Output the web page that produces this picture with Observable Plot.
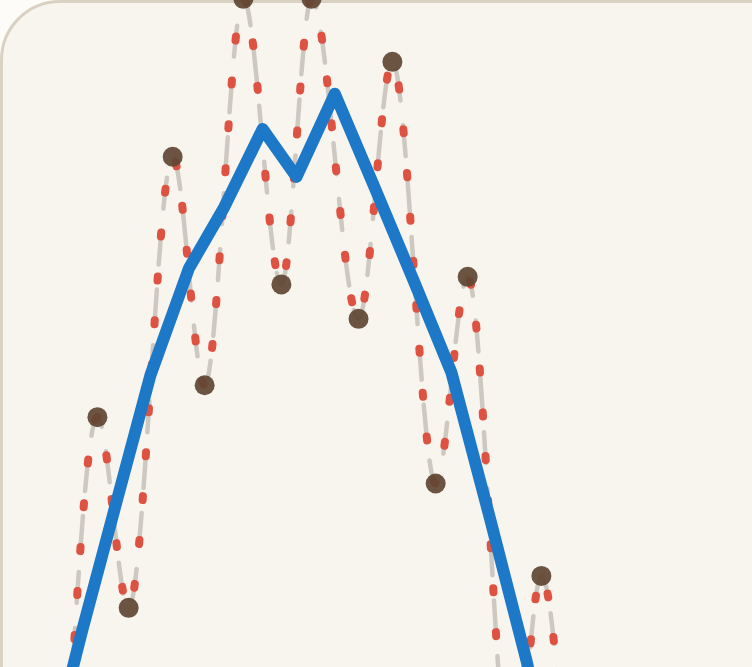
<!DOCTYPE html>
<html>
<head>
<meta charset="utf-8">
<script src="https://cdn.jsdelivr.net/npm/d3@7"></script>
<script src="https://cdn.jsdelivr.net/npm/@observablehq/plot@0.6"></script>
<style>
  html, body { margin: 0; padding: 0; background: #fdfcf9; overflow: hidden; }
  #chart { position: absolute; left: 0; top: 0; }
</style>
</head>
<body>
<div id="chart"></div>
<script>
// Oscillating series: local extrema (peaks and troughs)
const waveX = [0.77, 1.59, 2.42, 3.59, 4.44, 5.47, 6.48, 7.28, 8.53, 9.43, 10.58, 11.43, 12.62, 13.39, 14.06];
const waveY = [8.3, 50.4, 27.7, 81.4, 54.2, 100.2, 66.2, 100.2, 62.1, 92.7, 42.5, 67.1, 6.0, 31.5, 6.0];

// Smoothed trend series
const trendX = [0.4, 1.18, 2.0, 3.0, 4.02, 4.96, 5.98, 6.88, 7.9, 8.98, 10.0, 11.0, 12.02, 13.0, 13.73];
const trendY = [11.1, 24.9, 38.7, 55.4, 68.1, 75.4, 84.7, 79.0, 88.9, 77.5, 66.6, 55.7, 38.4, 21.3, 6.5];

const wave = waveX.map((x, i) => ({x, y: waveY[i]}));
const trend = trendX.map((x, i) => ({x, y: trendY[i]}));

const chart = Plot.plot({
  width: 1000,
  height: 900,
  margin: 0,
  style: {
    background: "#f8f5ef",
    border: "3px solid #d9d2c3",
    borderRadius: "60px",
    maxWidth: "none",
    overflow: "visible",
    display: "block"
  },
  x: {domain: [0, 20], range: [34.1, 786.6], axis: null},
  y: {domain: [0, 100], range: [837, -3], axis: null},
  marks: [
    Plot.line(wave, {x: "x", y: "y", curve: "monotone-x", stroke: "#cdc8c0", strokeWidth: 4.5,
      strokeDasharray: "31,25", strokeLinecap: "round"}),
    Plot.line(wave, {x: "x", y: "y", curve: "monotone-x", stroke: "#de5242", strokeWidth: 8,
      strokeDasharray: "4,40", strokeLinecap: "round"}),
    Plot.line(trend, {x: "x", y: "y", stroke: "#1e78c8", strokeWidth: 12,
      strokeLinejoin: "round", strokeLinecap: "round"}),
    Plot.dot(wave, {x: "x", y: "y", r: 10, fill: "#5e4733", fillOpacity: 0.92, stroke: "none"})
  ]
});
document.getElementById("chart").appendChild(chart);
</script>
</body>
</html>
